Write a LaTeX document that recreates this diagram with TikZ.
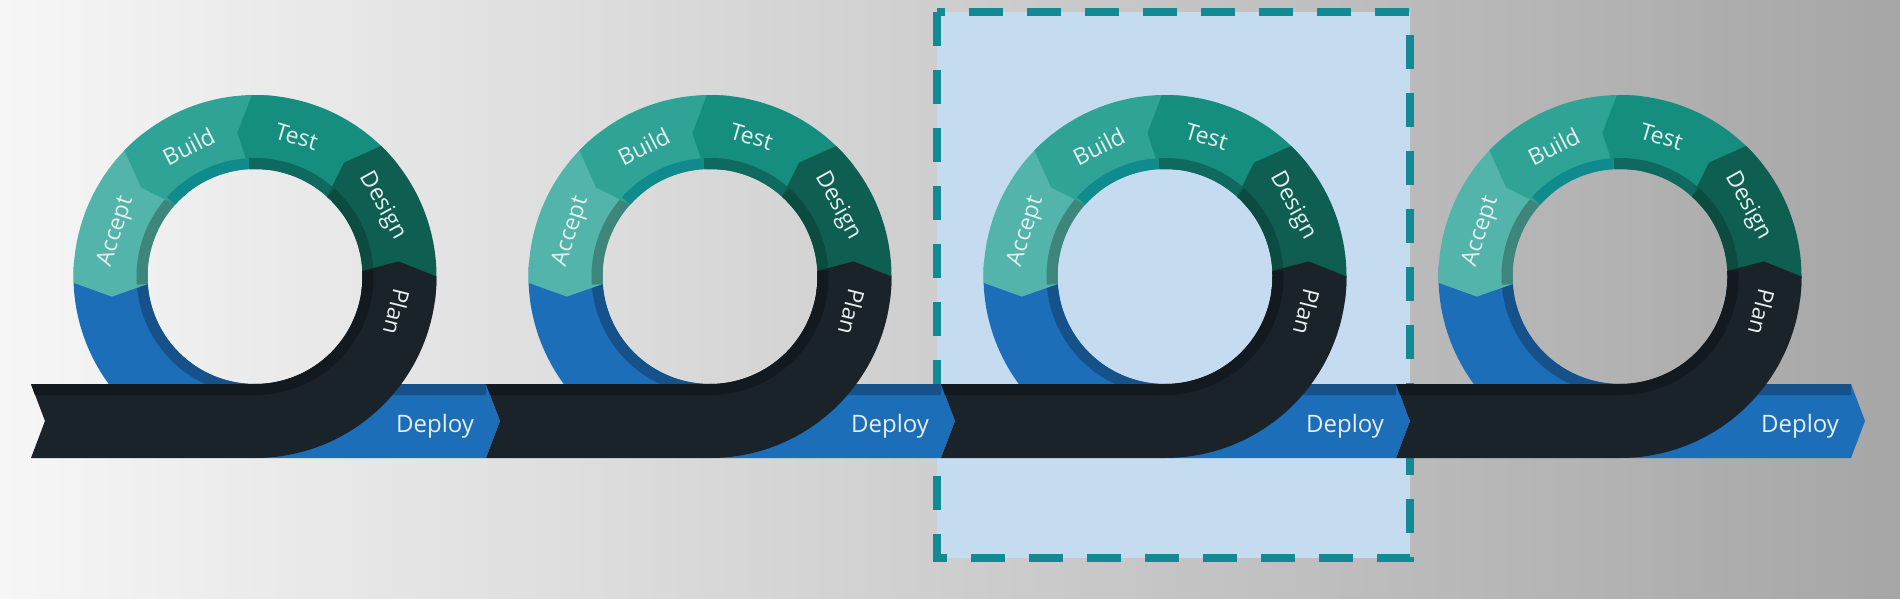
\documentclass[tikz,border=0pt]{standalone}
\usepackage{fontspec}
\setmainfont{Open Sans}
\usepackage{tikz}

\definecolor{bgleft}{HTML}{F6F6F6}
\definecolor{bgright}{HTML}{A6A6A6}
\definecolor{boxfill}{HTML}{C5DCF0}
\definecolor{boxline}{HTML}{138A93}
\definecolor{plancol}{HTML}{1A2329}
\definecolor{plandk}{HTML}{121A20}
\definecolor{descol}{HTML}{0E5F51}
\definecolor{desdk}{HTML}{0B4B40}
\definecolor{tstcol}{HTML}{168E7F}
\definecolor{tstdk}{HTML}{10695E}
\definecolor{bldcol}{HTML}{2FA496}
\definecolor{blddk}{HTML}{0F8A8D}
\definecolor{acccol}{HTML}{52B4AB}
\definecolor{accdk}{HTML}{3E857B}
\definecolor{depcol}{HTML}{1C6EB8}
\definecolor{depdk}{HTML}{165289}
\definecolor{lblcol}{HTML}{E6EEEE}

\newcommand{\Ro}{181.5}
\newcommand{\Ri}{107.5}

\tikzset{
  lbl/.style={text=lblcol, font=\fontsize{23}{23}\selectfont, inner sep=0pt},
  ring/.style={line width=11},
}

\begin{document}
\begin{tikzpicture}[x=1pt,y=1pt]
  \useasboundingbox (0,0) rectangle (1900,598);
  \shade[left color=bgleft, right color=bgright] (0,0) rectangle (1900,598);
  % highlighted iteration
  \draw[fill=boxfill, draw=boxline, line width=8, dash pattern=on 34 off 24] (937,586) rectangle (1410,40);

  \foreach \i in {0,...,3}{
  \begin{scope}[shift={(255+455*\i,321.5)}]
    % deploy ribbon, behind the loop
    \fill[depcol] (175:\Ro) arc[start angle=175, end angle=270, radius=\Ro] -- (231,-\Ro) -- (245,-144.5) -- (231,-\Ri) -- (0,-\Ri) arc[start angle=270, end angle=175, radius=\Ri] -- cycle;
    \fill[depdk] (175:\Ri) arc[start angle=175, end angle=270, radius=\Ri] -- (231,-\Ri) -- (231,-118.5) -- (0,-118.5) arc[start angle=270, end angle=175, radius=118.5] -- cycle;
    % ring segments
    \foreach \a/\b/\c/\d in {136/182/acccol/accdk, 91/136/bldcol/blddk, 46/91/tstcol/tstdk, 0/46/descol/desdk}{
      \fill[\c] ({\a-8}:\Ro) arc[start angle=\a-8, end angle=\b, radius=\Ro] -- ({\b+6}:144.5) -- ({\b+2}:\Ri) arc[start angle=\b+2, end angle=\a-8, radius=\Ri] -- cycle;
      \draw[\d, ring] ({\a-8}:113) arc[start angle=\a-8, end angle=\b+2, radius=113];
    }
    % plan ribbon
    \fill[plancol] (-224,-\Ro) -- (-210,-144.5) -- (-224,-\Ri) -- (0,-\Ri) arc[start angle=-90, end angle=3, radius=\Ri] -- (6:144.5) -- (0:\Ro) arc[start angle=0, end angle=-90, radius=\Ro] -- cycle;
    \fill[plandk] (-224,-\Ri) -- (0,-\Ri) arc[start angle=-90, end angle=3, radius=\Ri] -- (3:118.5) arc[start angle=3, end angle=-90, radius=118.5] -- (-220,-118.5) -- cycle;
    % labels
    \foreach \t/\p in {Plan/-14, Design/29, Test/73.5, Build/117, Accept/162}
      \node[lbl, rotate=\p-90] (\t\i) at (\p:146) {\t};
    \node[lbl, font=\fontsize{24}{24}\selectfont] (deploy\i) at (180,-150) {Deploy};
  \end{scope}
  }
\end{tikzpicture}
\end{document}
